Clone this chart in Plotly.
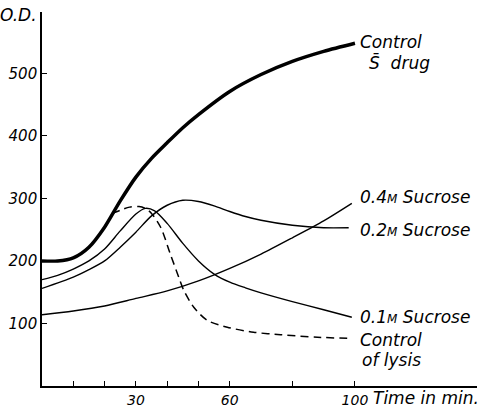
import plotly.graph_objects as go

# Time (min) and O.D. readings
t_control = [0, 5, 10, 15, 20, 25, 30, 35, 40, 45, 50, 60, 70, 80, 90, 100]
od_control = [200, 200, 205, 222, 254, 296, 334, 364, 389, 413, 434, 471, 498, 519, 535, 548]

t_01 = [0, 5, 10, 15, 20, 25, 30, 33, 36, 40, 45, 50, 55, 60, 65, 70, 80, 90, 99]
od_01 = [170, 177, 187, 200, 219, 248, 275, 284, 280, 260, 228, 200, 179, 166, 157, 149, 135, 122, 110]

t_02 = [0, 10, 15, 20, 25, 30, 35, 40, 45, 50, 55, 60, 65, 70, 80, 90, 98]
od_02 = [156, 174, 186, 200, 222, 246, 272, 289, 297, 295, 288, 279, 271, 265, 257, 253, 253]

t_04 = [0, 10, 20, 30, 40, 50, 60, 70, 80, 90, 99]
od_04 = [114, 120, 128, 140, 152, 168, 188, 211, 237, 264, 292]

t_lysis = [22.4, 25, 28, 31, 33, 35, 38, 41, 43.7, 45.3, 48.5, 52.8, 59.2, 67.6, 76.2, 88, 98.6]
od_lysis = [276, 281, 286, 287, 284, 276, 253, 211, 174, 153, 126, 105, 94, 86, 82, 78, 76]

x_tickvals = [10, 20, 30, 40, 50, 60, 80, 100]
x_ticktext = ["", "", "30", "", "", "60", "", "100"]
y_tickvals = [100, 200, 300, 400, 500]
y_ticktext = ["100", "200", "300", "400", "500"]

FONT = "DejaVu Sans"

fig = go.Figure()
fig.add_trace(go.Scatter(x=t_04, y=od_04, mode="lines",
                         line=dict(color="black", width=1.4, shape="spline", smoothing=0.8)))
fig.add_trace(go.Scatter(x=t_02, y=od_02, mode="lines",
                         line=dict(color="black", width=1.4, shape="spline", smoothing=0.8)))
fig.add_trace(go.Scatter(x=t_01, y=od_01, mode="lines",
                         line=dict(color="black", width=1.4, shape="spline", smoothing=0.8)))
fig.add_trace(go.Scatter(x=t_lysis, y=od_lysis, mode="lines",
                         line=dict(color="black", width=1.5, dash="8px,5px", shape="spline", smoothing=0.8)))
fig.add_trace(go.Scatter(x=t_control, y=od_control, mode="lines",
                         line=dict(color="black", width=3.5, shape="spline", smoothing=0.8)))

lab_font = dict(family=FONT, size=17, color="black", style="italic")

def ann(text, x, y, xref="x", yref="y", xanchor="left", yanchor="middle", align="left"):
    fig.add_annotation(text=text, x=x, y=y, xref=xref, yref=yref, showarrow=False,
                       xanchor=xanchor, yanchor=yanchor, align=align, font=lab_font)

M = "<span style='font-size:12px'>M</span>"
ann("Control", 101, 550)
ann("S\u0304  drug", 104, 518)
ann("0.4" + M + " Sucrose", 101, 302)
ann("0.2" + M + " Sucrose", 101, 250)
ann("0.1" + M + " Sucrose", 101, 110)
ann("Control", 101, 73)
ann("of lysis", 101.6, 41)
ann("Time in min.", 105, -0.031, yref="paper")
ann("O.D.", -0.008, 0.992, xref="paper", yref="paper", xanchor="right")

fig.update_xaxes(range=[0, 139], showline=True, linecolor="black", linewidth=1.6,
                 showgrid=False, zeroline=False, ticks="inside", ticklen=5, tickwidth=1,
                 tickcolor="black", tickvals=x_tickvals, ticktext=x_ticktext,
                 tickfont=dict(family=FONT, size=14, color="black", style="italic"))
fig.update_yaxes(range=[0, 598], showline=True, linecolor="black", linewidth=1.6,
                 showgrid=False, zeroline=False, ticks="inside", ticklen=5, tickwidth=1.2,
                 tickcolor="black", tickvals=y_tickvals, ticktext=y_ticktext,
                 tickfont=dict(family=FONT, size=15, color="black", style="italic"))

fig.update_layout(width=482, height=411, showlegend=False,
                  margin=dict(l=42, r=5, t=12, b=25, autoexpand=False),
                  paper_bgcolor="white", plot_bgcolor="white")

fig.write_html("out.html", config={"displayModeBar": False},
               post_script="document.body.style.margin='0';document.body.style.overflow='hidden';")
